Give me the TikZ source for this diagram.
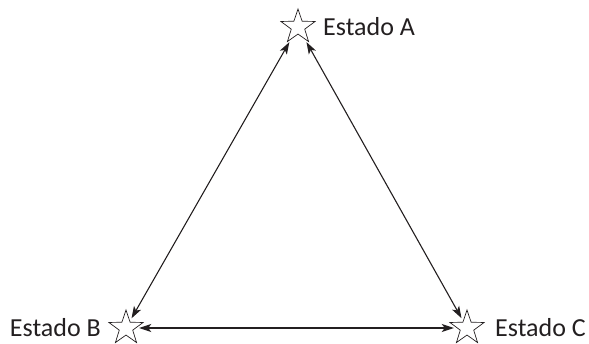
\documentclass[tikz,border=0pt]{standalone}
\usepackage{fontspec}
\setmainfont{Carlito}
\usetikzlibrary{shapes.geometric,arrows.meta,positioning}

\definecolor{inkgray}{HTML}{231F20}

\tikzset{
  state star/.style={draw=inkgray, line width=0.7pt, shape=star, star points=5,
    star point ratio=2.55, minimum size=36pt, inner sep=0pt},
  state label/.style={inner sep=0pt, text=inkgray, font=\fontsize{26}{31}\selectfont},
  transition/.style={<->, >={Stealth[length=12pt,width=8pt,inset=3pt]}, line width=1.1pt,
    draw=inkgray, shorten <=3pt, shorten >=3pt}
}

\begin{document}
\begin{tikzpicture}[x=1pt, y=-1pt]

% Frame
\useasboundingbox (0,0) rectangle (589,344);

% States
\node[state star] (starA) at (298,27) {};
\node[state star] (starB) at (126,328) {};
\node[state star] (starC) at (467,328) {};

% Labels
\node[state label, right=25pt of starA.center] (labelA) {Estado A};
\node[state label, left=25pt of starB.center] (labelB) {Estado B};
\node[state label, right=28pt of starC.center] (labelC) {Estado C};

% Transitions
\draw[transition] (starA) -- (starB);
\draw[transition] (starA) -- (starC);
\draw[transition] (starB) -- (starC);

\end{tikzpicture}
\end{document}
